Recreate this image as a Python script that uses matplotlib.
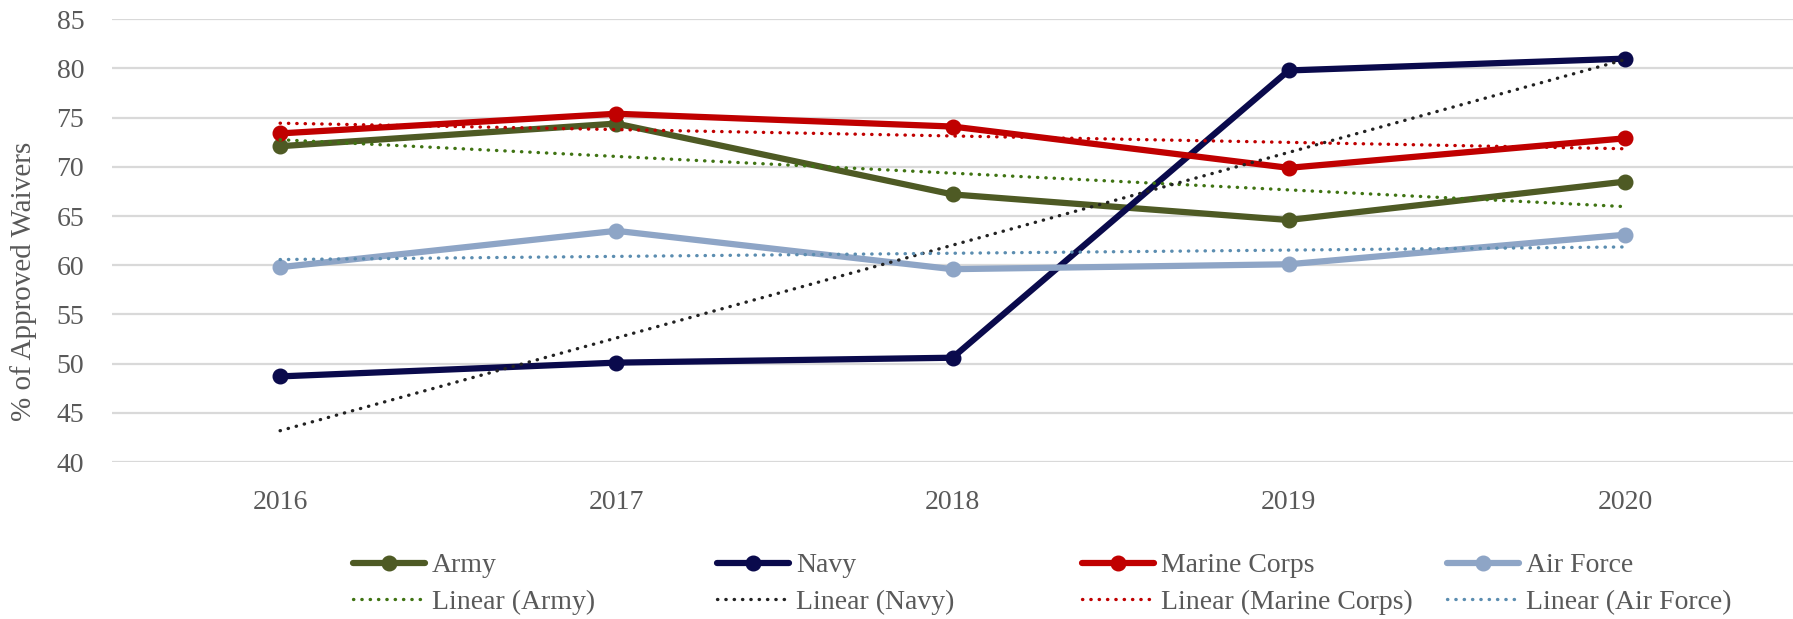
import numpy as np
import matplotlib
matplotlib.use("Agg")
import matplotlib.pyplot as plt

plt.rcParams['font.family'] = ['Liberation Serif', 'DejaVu Serif']

years = [2016, 2017, 2018, 2019, 2020]
army = [72.1, 74.4, 67.2, 64.6, 68.5]
navy = [48.7, 50.1, 50.6, 79.8, 81.0]
marine = [73.4, 75.4, 74.1, 69.9, 72.9]
air_force = [59.8, 63.5, 59.6, 60.1, 63.1]

series_names = ["Army", "Navy", "Marine Corps", "Air Force"]
line_colors = ["#4E5A24", "#0A0A4C", "#C00000", "#8EA5C6"]
trend_colors = ["#3F7312", "#222222", "#C00000", "#5B8DB0"]
yticks = [40, 45, 50, 55, 60, 65, 70, 75, 80, 85]

W, H = 1793, 619
fig = plt.figure(figsize=(W / 100, H / 100), dpi=100)
ax = fig.add_axes([112 / W, (H - 462) / H, 1 - 112 / W, (462 - 19.3) / H])

x = np.arange(len(years))
handles_main, handles_trend = [], []
for name, vals, lc, tc in zip(series_names, [army, navy, marine, air_force], line_colors, trend_colors):
    h, = ax.plot(x, vals, color=lc, lw=4.5, marker='o', ms=10.5, label=name, zorder=3,
                 solid_capstyle='round', solid_joinstyle='round')
    handles_main.append(h)
    coef = np.polyfit(x, vals, 1)
    t, = ax.plot(x, np.polyval(coef, x), color=tc, lw=2.4, linestyle=(0, (0.1, 2.4)),
                 dash_capstyle='round', label=f"Linear ({name})", zorder=4)
    handles_trend.append(t)

ax.set_xlim(-0.5, len(years) - 0.5)
ax.set_ylim(40, 85)
ax.set_yticks(yticks)
ax.set_xticks(x)
ax.set_xticklabels([str(y) for y in years])
ax.grid(axis='y', color='#D9D9D9', lw=1.6, zorder=0)
for s in ax.spines.values():
    s.set_visible(False)
ax.tick_params(axis='both', length=0, labelsize=20, colors='#595959')
ax.tick_params(axis='y', pad=20)
ax.tick_params(axis='x', pad=20)
ax.set_ylabel("% of Approved Waivers", fontsize=21, color='#595959', va='center')
ax.yaxis.set_label_coords(-0.0524, 0.409)

col_x = [353, 717, 1082, 1447]
for cx, hm, ht in zip(col_x, handles_main, handles_trend):
    fig.legend([hm, ht], [hm.get_label(), ht.get_label()], loc='upper left',
               bbox_to_anchor=(cx / W, (H - 553) / H), borderaxespad=0, borderpad=0,
               frameon=False, fontsize=20, handlelength=2.6, handletextpad=0.25,
               labelspacing=0.4, labelcolor='#595959')

fig.savefig("out.png", dpi=100)
